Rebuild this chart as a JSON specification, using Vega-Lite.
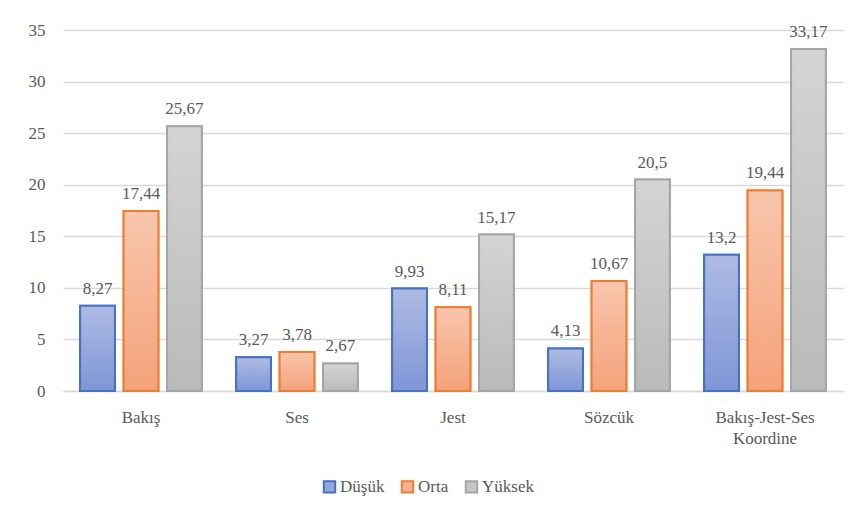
{
  "$schema": "https://vega.github.io/schema/vega-lite/v6.json",
  "width": 780,
  "height": 361,
  "autosize": {"type": "none"},
  "padding": {"left": 63, "top": 30, "right": 15, "bottom": 128},
  "background": "white",
  "config": {
    "font": "Liberation Serif",
    "view": {"stroke": null},
    "locale": {"number": {"decimal": ",", "thousands": ".", "grouping": [3], "currency": ["", ""]}}
  },
  "data": {
    "values": [
      {"kategori": "Bakış", "grup": "Düşük", "deger": 8.27},
      {"kategori": "Bakış", "grup": "Orta", "deger": 17.44},
      {"kategori": "Bakış", "grup": "Yüksek", "deger": 25.67},
      {"kategori": "Ses", "grup": "Düşük", "deger": 3.27},
      {"kategori": "Ses", "grup": "Orta", "deger": 3.78},
      {"kategori": "Ses", "grup": "Yüksek", "deger": 2.67},
      {"kategori": "Jest", "grup": "Düşük", "deger": 9.93},
      {"kategori": "Jest", "grup": "Orta", "deger": 8.11},
      {"kategori": "Jest", "grup": "Yüksek", "deger": 15.17},
      {"kategori": "Sözcük", "grup": "Düşük", "deger": 4.13},
      {"kategori": "Sözcük", "grup": "Orta", "deger": 10.67},
      {"kategori": "Sözcük", "grup": "Yüksek", "deger": 20.5},
      {"kategori": "Bakış-Jest-Ses Koordine", "grup": "Düşük", "deger": 13.2},
      {"kategori": "Bakış-Jest-Ses Koordine", "grup": "Orta", "deger": 19.44},
      {"kategori": "Bakış-Jest-Ses Koordine", "grup": "Yüksek", "deger": 33.17}
    ]
  },
  "encoding": {
    "x": {
      "field": "kategori",
      "type": "nominal",
      "sort": null,
      "scale": {"paddingInner": 0.22, "paddingOuter": 0.11},
      "axis": {
        "title": null,
        "labelAngle": 0,
        "labelFont": "Liberation Serif",
        "labelFontSize": 17,
        "labelColor": "#595959",
        "labelPadding": 18,
        "labelLineHeight": 21,
        "ticks": false,
        "domainColor": "#d9d9d9",
        "domainWidth": 1.5,
        "labelExpr": "datum.label == 'Bakış-Jest-Ses Koordine' ? ['Bakış-Jest-Ses', 'Koordine'] : datum.label"
      }
    },
    "xOffset": {"field": "grup", "type": "nominal", "scale": {"paddingInner": 0.2}},
    "y": {
      "field": "deger",
      "type": "quantitative",
      "scale": {"domain": [0, 35]},
      "axis": {
        "title": null,
        "values": [0, 5, 10, 15, 20, 25, 30, 35],
        "labelFont": "Liberation Serif",
        "labelFontSize": 17,
        "labelColor": "#595959",
        "labelPadding": 18,
        "ticks": false,
        "domain": false,
        "gridColor": "#d9d9d9",
        "gridWidth": 1.5
      }
    }
  },
  "layer": [
    {
      "mark": {"type": "bar", "strokeWidth": 2},
      "encoding": {
        "fill": {
          "field": "grup",
          "type": "nominal",
          "scale": {"domain": ["Düşük", "Orta", "Yüksek"], "range": ["#93a7dc", "#f5b18f", "#c6c6c6"]},
          "legend": {
            "title": null,
            "orient": "none",
            "legendX": 258,
            "legendY": 448,
            "direction": "horizontal",
            "symbolType": "square",
            "symbolSize": 130,
            "symbolStrokeWidth": 2,
            "labelFont": "Liberation Serif",
            "labelFontSize": 17,
            "labelColor": "#595959",
            "labelOffset": 2,
            "columnPadding": 12
          }
        },
        "stroke": {
          "field": "grup",
          "type": "nominal",
          "scale": {"domain": ["Düşük", "Orta", "Yüksek"], "range": ["#4472c4", "#ed7d31", "#a5a5a5"]},
          "legend": null
        }
      }
    },
    {
      "mark": {"type": "bar", "strokeWidth": 2},
      "encoding": {
        "fill": {
          "condition": [
            {"test": "datum.grup === 'Düşük'", "value": {"gradient": "linear", "x1": 0, "y1": 0, "x2": 0, "y2": 1, "stops": [{"offset": 0, "color": "#aebbe3"}, {"offset": 1, "color": "#7f96d6"}]}},
            {"test": "datum.grup === 'Orta'", "value": {"gradient": "linear", "x1": 0, "y1": 0, "x2": 0, "y2": 1, "stops": [{"offset": 0, "color": "#f8c6ad"}, {"offset": 1, "color": "#f4a27a"}]}}
          ],
          "value": {"gradient": "linear", "x1": 0, "y1": 0, "x2": 0, "y2": 1, "stops": [{"offset": 0, "color": "#d4d4d4"}, {"offset": 1, "color": "#bababa"}]}
        },
        "stroke": {
          "field": "grup",
          "type": "nominal",
          "legend": null
        }
      }
    },
    {
      "mark": {"type": "text", "dy": -17, "font": "Liberation Serif", "fontSize": 17, "color": "#595959"},
      "encoding": {
        "text": {"field": "deger", "type": "quantitative", "format": ".4~g"}
      }
    }
  ]
}
